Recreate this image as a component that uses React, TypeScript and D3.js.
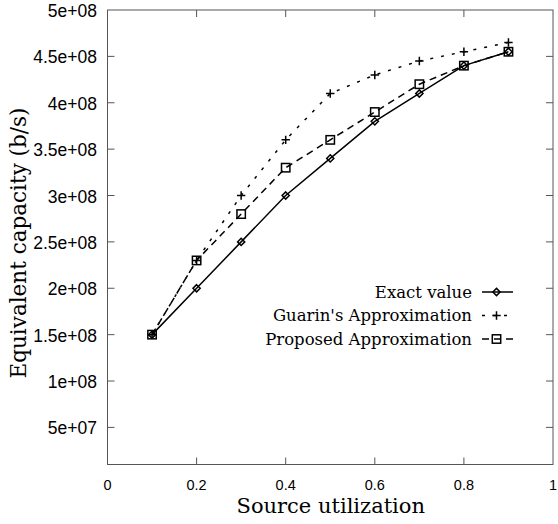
import React from "react";
import * as d3 from "d3";

const xValues = [0.1, 0.2, 0.3, 0.4, 0.5, 0.6, 0.7, 0.8, 0.9];
const exactValues = [1.5e8, 2.0e8, 2.5e8, 3.0e8, 3.4e8, 3.8e8, 4.1e8, 4.4e8, 4.55e8];
const guarinValues = [1.5e8, 2.3e8, 3.0e8, 3.6e8, 4.1e8, 4.3e8, 4.45e8, 4.55e8, 4.65e8];
const proposedValues = [1.5e8, 2.3e8, 2.8e8, 3.3e8, 3.6e8, 3.9e8, 4.2e8, 4.4e8, 4.55e8];
const xTicks = [0, 0.2, 0.4, 0.6, 0.8, 1];
const xTickLabels = ["0", "0.2", "0.4", "0.6", "0.8", "1"];
const yTicks = [5e7, 1e8, 1.5e8, 2e8, 2.5e8, 3e8, 3.5e8, 4e8, 4.5e8, 5e8];
const yTickLabels = ["5e+07", "1e+08", "1.5e+08", "2e+08", "2.5e+08", "3e+08", "3.5e+08", "4e+08", "4.5e+08", "5e+08"];
const seriesNames = ["Exact value", "Guarin's Approximation", "Proposed Approximation"];

const W = 558, H = 524;
const L = 107.5, R = 553, T = 10, B = 464.5;

export default function App() {
  const x = d3.scaleLinear().domain([0, 1]).range([L, R]);
  const y = d3.scaleLinear().domain([1e7, 5e8]).range([B, T]);
  const line = d3.line<number>().x((_, i) => x(xValues[i])).y((v) => y(v));

  const series = [
    { name: seriesNames[0], values: exactValues, dash: undefined as string | undefined, marker: "diamond" },
    { name: seriesNames[1], values: guarinValues, dash: "3,8", marker: "plus" },
    { name: seriesNames[2], values: proposedValues, dash: "7,5", marker: "square" },
  ];

  const marker = (type: string, cx: number, cy: number, key: string) => {
    if (type === "diamond") {
      const s = 3.6;
      return (
        <path key={key} d={`M${cx},${cy - s}L${cx + s},${cy}L${cx},${cy + s}L${cx - s},${cy}Z`} fill="none" stroke="#000" strokeWidth={1.5} />
      );
    }
    if (type === "plus") {
      const s = 4.2;
      return (
        <path key={key} d={`M${cx - s},${cy}H${cx + s}M${cx},${cy - s}V${cy + s}`} fill="none" stroke="#000" strokeWidth={1.5} />
      );
    }
    const s = 4.2;
    return <rect key={key} x={cx - s} y={cy - s} width={2 * s} height={2 * s} fill="none" stroke="#000" strokeWidth={1.5} />;
  };

  const legendY = [292, 315.5, 339];
  const legendTextX = 472;
  const sampleX1 = 482, sampleX2 = 513;

  return (
    <svg width={W} height={H} style={{ position: "absolute", left: 0, top: 0, background: "#fff" }}>
      <rect x={0} y={0} width={W} height={H} fill="#fff" />
      {xTicks.map((t, i) => (
        <g key={"xt" + i}>
          {i > 0 && i < xTicks.length - 1 && (
            <>
              <line x1={x(t)} x2={x(t)} y1={B} y2={B - 7} stroke="#555" strokeWidth={1} />
              <line x1={x(t)} x2={x(t)} y1={T} y2={T + 7} stroke="#555" strokeWidth={1} />
            </>
          )}
          <text x={x(t)} y={484.5} textAnchor="middle" dominantBaseline="central" fontFamily="'Liberation Sans', Arial, sans-serif" fontSize={14.5} fill="#000">
            {xTickLabels[i]}
          </text>
        </g>
      ))}
      {yTicks.map((t, i) => (
        <g key={"yt" + i}>
          {i < yTicks.length - 1 && (
            <>
              <line x1={L} x2={L + 7} y1={y(t)} y2={y(t)} stroke="#555" strokeWidth={1} />
              <line x1={R} x2={R - 7} y1={y(t)} y2={y(t)} stroke="#555" strokeWidth={1} />
            </>
          )}
          <text x={97} y={y(t) + 1} textAnchor="end" dominantBaseline="central" fontFamily="'Liberation Sans', Arial, sans-serif" fontSize={17.5} fill="#000">
            {yTickLabels[i]}
          </text>
        </g>
      ))}
      <rect x={L} y={T} width={R - L} height={B - T} fill="none" stroke="#555" strokeWidth={1} />

      {series.map((s, si) => (
        <g key={"s" + si}>
          <path d={line(s.values) || ""} fill="none" stroke="#000" strokeWidth={1.5} strokeDasharray={s.dash} />
          {s.values.map((v, i) => marker(s.marker, x(xValues[i]), y(v), `m${si}-${i}`))}
        </g>
      ))}

      {series.map((s, si) => (
        <g key={"lg" + si}>
          <text x={legendTextX} y={legendY[si]} textAnchor="end" dominantBaseline="central" fontFamily="'DejaVu Serif', serif" fontSize={16.5} fill="#000">
            {s.name}
          </text>
          <line x1={sampleX1} x2={sampleX2} y1={legendY[si]} y2={legendY[si]} stroke="#000" strokeWidth={1.5} strokeDasharray={s.dash} />
          {marker(s.marker, (sampleX1 + sampleX2) / 2 - 1, legendY[si], `lm${si}`)}
        </g>
      ))}

      <text x={(L + R) / 2 + 0.5} y={512.5} textAnchor="middle" fontFamily="'DejaVu Serif', serif" fontSize={21} fill="#000">
        Source utilization
      </text>
      <text transform={`translate(18,243) rotate(-90)`} textAnchor="middle" dominantBaseline="central" fontFamily="'DejaVu Serif', serif" fontSize={21.5} fill="#000">
        Equivalent capacity (b/s)
      </text>
    </svg>
  );
}
